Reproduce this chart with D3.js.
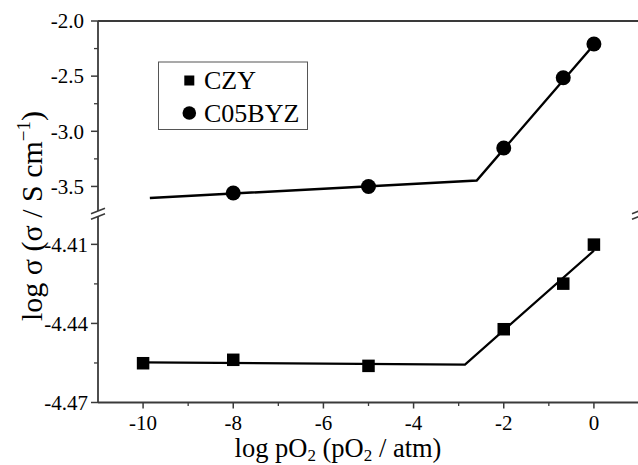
<!DOCTYPE html>
<html>
<head>
<meta charset="utf-8">
<script src="https://cdn.jsdelivr.net/npm/d3@7/dist/d3.min.js"></script>
<style>
  html, body { margin: 0; padding: 0; background: #fff; }
  svg { display: block; }
  text { font-family: "Liberation Serif", "Times New Roman", serif; fill: #000; }
</style>
</head>
<body>
<svg id="chart" width="638" height="465"></svg>
<script>
// log pO2 values for each sample
const pO2CZY = [-10, -8, -5, -2, -0.68, 0];
const sigmaCZY = [-4.4551, -4.4538, -4.4561, -4.4422, -4.4249, -4.4101];
const pO2BYZ = [-8, -5, -2, -0.68, 0];
const sigmaBYZ = [-3.56, -3.50, -3.152, -2.514, -2.208];

// piecewise linear fits (low-pO2 plateau + high-pO2 slope)
const fitCZYx = [-10, -2.86, 0];
const fitCZYy = [-4.4548, -4.4556, -4.4124];
const fitBYZx = [-9.85, -2.6, 0];
const fitBYZy = [-3.605, -3.446, -2.215];

// axis ticks
const xTicks = [-10, -8, -6, -4, -2, 0];
const xMinor = [-9, -7, -5, -3, -1];
const yTopTicks = [-2.0, -2.5, -3.0, -3.5];
const yTopMinor = [-2.25, -2.75, -3.25];
const yBotTicks = [-4.41, -4.44, -4.47];
const yBotMinor = [-4.425, -4.455];
const legendNames = ["CZY", "C05BYZ"];

const svg = d3.select("#chart");
const axisColor = "#3a3a3a";

const x = d3.scaleLinear().domain([-11, 1]).range([98, 639]);
const yTop = d3.scaleLinear().domain([-3.7, -2.0]).range([208.5, 21]);
const yBot = d3.scaleLinear().domain([-4.47, -4.40]).range([402.5, 218]);

const tickFontSize = "21px";
const hyphen = s => s.replace(/\u2212/g, "-");

// --- frame ---
const frame = svg.append("g").attr("stroke", axisColor).attr("fill", "none");
// top border
frame.append("line").attr("x1", x.range()[0]).attr("x2", 638)
  .attr("y1", yTop.range()[1]).attr("y2", yTop.range()[1]).attr("stroke-width", 2);
// bottom axis line
frame.append("line").attr("x1", x.range()[0]).attr("x2", 638)
  .attr("y1", yBot.range()[0]).attr("y2", yBot.range()[0]).attr("stroke-width", 1.8);

// left and right vertical axes with a break between the two panels
[x.range()[0], x.range()[1]].forEach(ax => {
  frame.append("line").attr("x1", ax).attr("x2", ax)
    .attr("y1", yTop.range()[1]).attr("y2", 211).attr("stroke-width", 1.8);
  frame.append("line").attr("x1", ax).attr("x2", ax)
    .attr("y1", 216).attr("y2", yBot.range()[0]).attr("stroke-width", 1.8);
  [211, 216.5].forEach(cy => {
    frame.append("line").attr("x1", ax - 7).attr("y1", cy + 2.8)
      .attr("x2", ax + 7).attr("y2", cy - 2.8).attr("stroke-width", 1.5);
  });
});

// --- x axis ticks ---
const xAxis = svg.append("g");
xAxis.selectAll("line.maj").data(xTicks).join("line")
  .attr("x1", d => x(d)).attr("x2", d => x(d))
  .attr("y1", yBot.range()[0]).attr("y2", yBot.range()[0] + 6)
  .attr("stroke", axisColor).attr("stroke-width", 1.5);
xAxis.selectAll("line.min").data(xMinor).join("line")
  .attr("x1", d => x(d)).attr("x2", d => x(d))
  .attr("y1", yBot.range()[0]).attr("y2", yBot.range()[0] + 3.5)
  .attr("stroke", axisColor).attr("stroke-width", 1.3);
xAxis.selectAll("text").data(xTicks).join("text")
  .attr("x", d => x(d)).attr("y", 430)
  .attr("text-anchor", "middle")
  .style("font-size", tickFontSize)
  .text(d => hyphen(d3.format("d")(d)));

// --- y axis ticks (two panels) ---
function yTicksPanel(scale, major, minor, fmt, labelX) {
  const g = svg.append("g");
  const x0 = x.range()[0];
  g.selectAll("line.maj").data(major).join("line")
    .attr("x1", x0 - 7).attr("x2", x0)
    .attr("y1", d => scale(d)).attr("y2", d => scale(d))
    .attr("stroke", axisColor).attr("stroke-width", 1.5);
  g.selectAll("line.min").data(minor).join("line")
    .attr("x1", x0 - 4).attr("x2", x0)
    .attr("y1", d => scale(d)).attr("y2", d => scale(d))
    .attr("stroke", axisColor).attr("stroke-width", 1.3);
  g.selectAll("text").data(major).join("text")
    .attr("x", labelX).attr("y", d => scale(d))
    .attr("dy", "0.35em").attr("text-anchor", "end")
    .style("font-size", tickFontSize)
    .text(d => hyphen(d3.format(fmt)(d)));
}
yTicksPanel(yTop, yTopTicks, yTopMinor, ".1f", 84);
yTicksPanel(yBot, yBotTicks, yBotMinor, ".2f", 88);

// --- fit lines ---
const line = sy => d3.line().x(d => x(d[0])).y(d => sy(d[1]));
svg.append("path")
  .datum(d3.zip(fitBYZx, fitBYZy))
  .attr("d", line(yTop))
  .attr("fill", "none").attr("stroke", "#000").attr("stroke-width", 2.4);
svg.append("path")
  .datum(d3.zip(fitCZYx, fitCZYy))
  .attr("d", line(yBot))
  .attr("fill", "none").attr("stroke", "#000").attr("stroke-width", 2.2);

// --- markers ---
svg.append("g").selectAll("circle").data(d3.zip(pO2BYZ, sigmaBYZ)).join("circle")
  .attr("cx", d => x(d[0])).attr("cy", d => yTop(d[1])).attr("r", 7.5)
  .attr("fill", "#000");
const sq = 12.5;
svg.append("g").selectAll("rect").data(d3.zip(pO2CZY, sigmaCZY)).join("rect")
  .attr("x", d => x(d[0]) - sq / 2).attr("y", d => yBot(d[1]) - sq / 2)
  .attr("width", sq).attr("height", sq).attr("fill", "#000");

// --- legend ---
const lg = svg.append("g");
lg.append("rect").attr("x", 158.5).attr("y", 62).attr("width", 149).attr("height", 67.5)
  .attr("fill", "#fff").attr("stroke", "#555").attr("stroke-width", 1);
lg.append("rect").attr("x", 189.3 - 5).attr("y", 80.5 - 5).attr("width", 10).attr("height", 10)
  .attr("fill", "#000");
lg.append("circle").attr("cx", 189.3).attr("cy", 113).attr("r", 6.8).attr("fill", "#000");
lg.selectAll("text").data(legendNames).join("text")
  .attr("x", 204).attr("y", (d, i) => i === 0 ? 89 : 122)
  .style("font-size", "26px")
  .text(d => d);

// --- axis titles ---
const xt = svg.append("text").attr("x", 338).attr("y", 457)
  .attr("text-anchor", "middle").style("font-size", "26.5px");
xt.append("tspan").text("log pO");
xt.append("tspan").text("2").style("font-size", "17px").attr("dy", 4);
xt.append("tspan").text(" (pO").attr("dy", -4);
xt.append("tspan").text("2").style("font-size", "17px").attr("dy", 4);
xt.append("tspan").text(" / atm)").attr("dy", -4);

const yt = svg.append("text")
  .attr("transform", "translate(42,216) rotate(-90)")
  .attr("text-anchor", "middle").style("font-size", "30px");
yt.append("tspan").text("log σ (σ / S cm");
yt.append("tspan").text("−1").style("font-size", "19px").attr("dy", -12);
yt.append("tspan").text(")").attr("dy", 12);
</script>
</body>
</html>
